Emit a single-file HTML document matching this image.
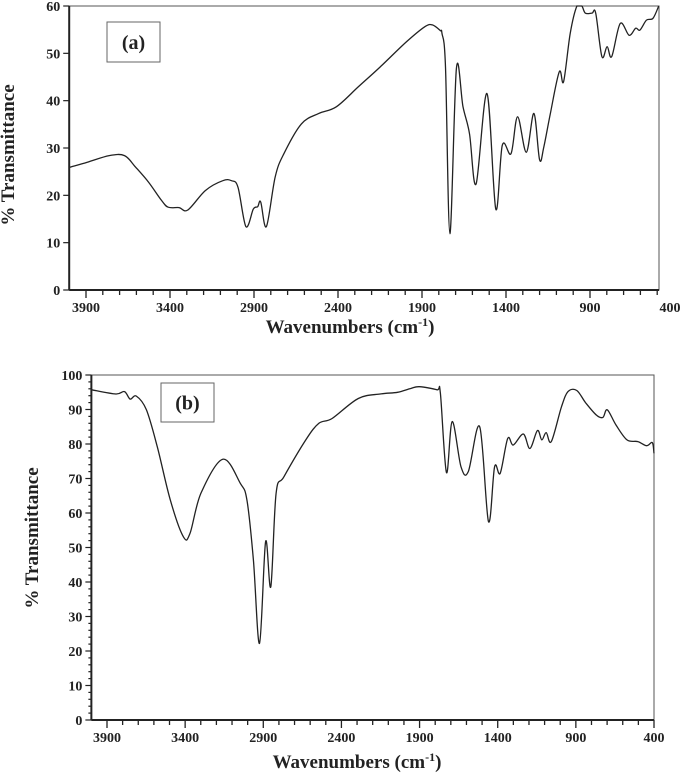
<!DOCTYPE html>
<html><head><meta charset="utf-8"><style>
body{margin:0;background:#fff;}
svg text{font-family:"Liberation Serif",serif;font-weight:bold;fill:#222;}
</style></head><body>
<svg id="s" width="685" height="774" xmlns="http://www.w3.org/2000/svg"></svg>
<script>
const xTickLabels=[3900,3400,2900,2400,1900,1400,900,400];
const yTicksA=[0,10,20,30,40,50,60];
const yTicksB=[0,10,20,30,40,50,60,70,80,90,100];
const wnA=[4000,3892,3762,3671,3606,3528,3450,3411,3346,3294,3190,3086,3034,2995,2948,2904,2878,2860,2826,2774,2722,2618,2514,2410,2280,2150,1994,1884,1838,1791,1781,1760,1734,1695,1656,1617,1578,1513,1461,1422,1370,1331,1279,1234,1200,1175,1136,1083,1057,1018,978,949,928,888,866,829,798,771,720,667,628,603,564,525,491];
const tA=[25.9,27,28.4,28.4,26,22.8,18.9,17.5,17.4,16.9,21,23.1,23.1,21.7,13.4,17.1,17.6,18.6,13.4,23.9,28.8,35.1,37.3,38.7,42.9,47.1,52.4,55.6,56,54.8,54.2,47.1,11.9,46.8,38.7,33,22.4,41.5,17.1,30.6,28.8,36.6,29.1,37.3,27.5,30.2,37.3,46.1,44,54.2,60,60,58.5,58.5,58.5,49.3,51.4,49.3,56.3,53.8,55.3,54.9,57,57.4,60];
const wnB=[3998,3844,3788,3752,3713,3648,3578,3495,3411,3369,3299,3159,3047,3005,2963,2924,2885,2852,2818,2768,2628,2544,2460,2292,2152,2041,1957,1901,1789,1767,1728,1691,1635,1588,1515,1459,1420,1384,1336,1300,1236,1194,1146,1118,1090,1057,992,950,894,838,769,727,699,643,573,503,447,411,400];
const tB=[95.7,94.5,95.2,93,93.9,89.9,79.2,63.8,53.1,54.1,65.7,75.6,68.6,63.8,46.4,22.2,51.7,38.6,65.7,70.5,81.2,86,87.4,93.2,94.5,95,96.1,96.6,95.7,94.7,71.7,86.5,73.4,72,85,57.5,73.4,71.5,81.6,79.7,82.9,78.7,83.9,81.2,83.3,80.7,90.8,95.2,95.5,92,88.4,87.7,89.9,85.5,81.2,80.7,79.5,80.4,77.3];

const svg=document.getElementById('s');
const NS='http://www.w3.org/2000/svg';
function mk(tag,attrs,parent){const e=document.createElementNS(NS,tag);for(const k in attrs)e.setAttribute(k,attrs[k]);(parent||svg).appendChild(e);return e;}

function chart(cfg){
  const g=mk('g',{});
  
  
  const X=w=>cfg.x3900+(3900-w)*(cfg.x400-cfg.x3900)/3500;
  const Y=v=>cfg.y0-(v-cfg.ymin)*(cfg.y0-cfg.ytop)/(cfg.ymax-cfg.ymin);
  const L=X(4000),R=cfg.right,T=cfg.ytop,B=cfg.y0;
  const frame=mk('rect',{x:L,y:T,width:R-L,height:B-T,fill:'none',stroke:'#555','stroke-width':1},g);
  
  const xa=mk('line',{x1:L,y1:B,x2:R,y2:B,stroke:'#222','stroke-width':2},g);
  
  const ya=mk('line',{x1:L,y1:T,x2:L,y2:B,stroke:'#222','stroke-width':2},g);
  
  for(let w=3900;w>=400;w-=100){if(X(w)>R+0.5)continue;const maj=xTickLabels.includes(w);
    mk('line',{x1:X(w),y1:B,x2:X(w),y2:B+(maj?8:5),stroke:'#222','stroke-width':1.3},g);}
  xTickLabels.forEach(w=>{const t=mk('text',{x:Math.min(X(w),670),y:B+22,'text-anchor':'middle','font-size':14},g);t.textContent=w;
    });
  for(let v=cfg.ymin;v<=cfg.ymax;v+=cfg.minor){const maj=v%10===0;
    mk('line',{x1:L,y1:Y(v),x2:L-(maj?6:3),y2:Y(v),stroke:'#222','stroke-width':1.2},g);}
  cfg.yTicks.forEach(v=>{const t=mk('text',{x:L-9,y:Y(v)+5,'text-anchor':'end','font-size':14},g);t.textContent=v;
    });
  const xt=mk('text',{x:cfg.xtitleX,y:cfg.xtitleY,'text-anchor':'middle','font-size':19},g);
  xt.innerHTML='Wavenumbers (cm<tspan dy="-7" font-size="12">-1</tspan><tspan dy="7">)</tspan>';
  
  const yt=mk('text',{x:0,y:0,'text-anchor':'middle','font-size':19,transform:`translate(${cfg.ytitleX},${cfg.ytitleY}) rotate(-90)`},g);
  yt.textContent='% Transmittance';
  
  const bx=mk('rect',{x:cfg.box[0],y:cfg.box[1],width:cfg.box[2],height:cfg.box[3],fill:'#fff',stroke:'#666','stroke-width':1},g);
  
  const bt=mk('text',{x:cfg.box[0]+cfg.box[2]/2,y:cfg.box[1]+cfg.box[3]/2+7,'text-anchor':'middle','font-size':20},g);
  bt.textContent=cfg.label;
  const pts=cfg.wn.map((w,i)=>[X(w),Y(Math.min(cfg.ymax,cfg.t[i]))]);
  let d='M'+pts[0][0].toFixed(1)+','+pts[0][1].toFixed(1);
  for(let i=0;i<pts.length-1;i++){const p0=pts[Math.max(0,i-1)],p1=pts[i],p2=pts[i+1],p3=pts[Math.min(pts.length-1,i+2)];
    const c1=[p1[0]+(p2[0]-p0[0])/6,p1[1]+(p2[1]-p0[1])/6],c2=[p2[0]-(p3[0]-p1[0])/6,p2[1]-(p3[1]-p1[1])/6];
    c1[1]=Math.max(T,c1[1]);c2[1]=Math.max(T,c2[1]);
    d+=` C${c1[0].toFixed(1)},${c1[1].toFixed(1)} ${c2[0].toFixed(1)},${c2[1].toFixed(1)} ${p2[0].toFixed(1)},${p2[1].toFixed(1)}`;}
  const ln=mk('path',{d:d,fill:'none',stroke:'#222','stroke-width':1.3},g);
  
}
chart({name:'chart-a',x3900:86,x400:674,right:659,ytop:6,y0:290,ymin:0,ymax:60,minor:10,yTicks:yTicksA,wn:wnA,t:tA,label:'(a)',box:[107,22,53,40],xtitleX:350,xtitleY:333,ytitleX:14,ytitleY:155});
chart({name:'chart-b',x3900:107,x400:654,right:654,ytop:375,y0:720,ymin:0,ymax:100,minor:2,yTicks:yTicksB,wn:wnB,t:tB,label:'(b)',box:[161,383,53,39],xtitleX:357,xtitleY:768,ytitleX:38,ytitleY:538});
</script>
</body></html>
